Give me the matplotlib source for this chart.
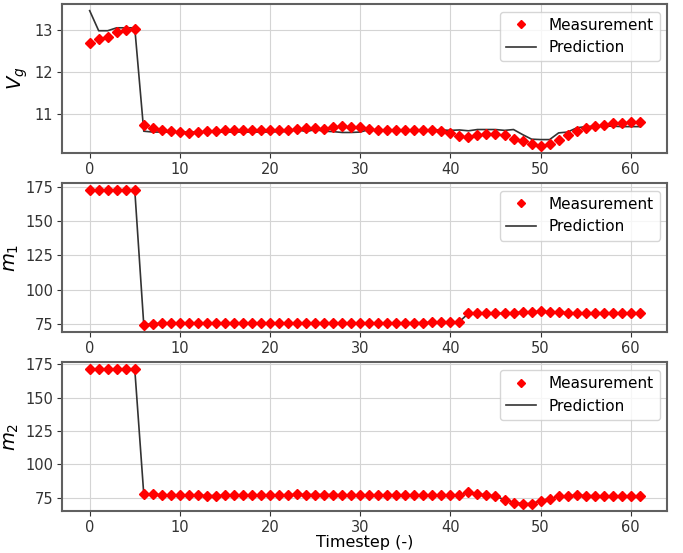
import numpy as np
import matplotlib
matplotlib.use('Agg')
import matplotlib.pyplot as plt

# 时间步
timestep = list(range(62))

# V_g 测量值 / 预测值
vg_meas = [12.69, 12.78, 12.84, 12.94, 12.99, 13.02, 10.74, 10.65, 10.60, 10.58,
           10.56, 10.53, 10.56, 10.58, 10.58, 10.60, 10.60, 10.60, 10.60, 10.60,
           10.60, 10.61, 10.62, 10.64, 10.65, 10.65, 10.64, 10.67, 10.70, 10.67,
           10.68, 10.64, 10.62, 10.60, 10.60, 10.60, 10.60, 10.60, 10.60, 10.58,
           10.53, 10.46, 10.44, 10.48, 10.51, 10.51, 10.48, 10.40, 10.34, 10.27,
           10.23, 10.28, 10.38, 10.48, 10.59, 10.65, 10.71, 10.74, 10.78, 10.78,
           10.80, 10.80]
vg_pred = [13.46, 12.98, 12.98, 13.05, 13.05, 13.05, 10.58, 10.56, 10.56, 10.56,
           10.56, 10.56, 10.56, 10.56, 10.56, 10.56, 10.56, 10.56, 10.56, 10.56,
           10.56, 10.57, 10.57, 10.62, 10.57, 10.62, 10.58, 10.57, 10.55, 10.55,
           10.56, 10.62, 10.61, 10.61, 10.61, 10.61, 10.61, 10.61, 10.61, 10.61,
           10.60, 10.61, 10.59, 10.62, 10.62, 10.62, 10.60, 10.62, 10.50, 10.39,
           10.38, 10.38, 10.54, 10.56, 10.66, 10.69, 10.70, 10.70, 10.70, 10.69,
           10.69, 10.69]

# m_1
m1_meas = [173.0, 173.0, 173.0, 173.0, 173.0, 173.0, 74.0, 74.7, 75.4, 75.6,
           75.6, 75.6, 75.6, 75.6, 75.6, 75.6, 75.6, 75.6, 75.6, 75.6,
           75.6, 75.6, 75.6, 75.6, 75.6, 75.6, 75.6, 75.6, 75.6, 75.6,
           75.6, 75.6, 75.6, 75.6, 75.6, 75.6, 75.7, 75.7, 75.9, 76.0,
           76.1, 76.5, 82.6, 82.6, 82.6, 82.6, 82.7, 83.0, 83.6, 83.9,
           84.0, 83.9, 83.5, 83.0, 82.7, 82.6, 82.5, 82.5, 82.5, 82.5,
           82.5, 82.5]
m1_pred = [173.0, 173.0, 173.0, 173.0, 173.0, 173.0, 74.2, 74.8, 75.4, 75.6,
           75.6, 75.6, 75.6, 75.6, 75.6, 75.6, 75.6, 75.6, 75.6, 75.6,
           75.6, 75.6, 75.6, 75.6, 75.6, 75.6, 75.6, 75.6, 75.6, 75.6,
           75.6, 75.6, 75.6, 75.6, 75.6, 75.6, 75.7, 75.7, 75.9, 76.0,
           76.1, 76.5, 82.5, 82.5, 82.5, 82.5, 82.6, 83.0, 83.5, 83.8,
           83.9, 83.8, 83.4, 83.0, 82.6, 82.5, 82.4, 82.4, 82.4, 82.4,
           82.4, 82.4]

# m_2
m2_meas = [171.5, 171.5, 171.5, 171.5, 171.5, 171.5, 77.5, 77.6, 77.1, 76.6,
           76.9, 76.6, 76.6, 76.5, 76.0, 76.6, 76.6, 77.0, 77.0, 77.0,
           77.0, 77.0, 77.0, 77.6, 77.2, 77.2, 77.2, 77.2, 77.2, 76.8,
           76.8, 76.8, 76.8, 76.8, 76.8, 76.8, 76.9, 76.9, 76.9, 76.9,
           76.8, 76.8, 79.0, 77.5, 77.0, 76.0, 73.2, 71.2, 70.0, 70.5,
           72.5, 74.2, 75.8, 76.3, 76.8, 76.5, 76.3, 76.0, 76.0, 76.3,
           76.3, 76.3]
m2_pred = [171.5, 171.5, 171.5, 171.5, 171.5, 171.5, 77.5, 77.4, 77.1, 76.8,
           76.8, 76.7, 76.6, 76.5, 76.4, 76.6, 76.7, 76.9, 77.0, 77.0,
           77.0, 77.0, 77.1, 77.3, 77.2, 77.2, 77.2, 77.2, 77.1, 76.9,
           76.8, 76.8, 76.8, 76.8, 76.8, 76.8, 76.9, 76.9, 76.9, 76.9,
           76.8, 76.8, 78.8, 77.5, 77.0, 76.0, 73.4, 71.4, 70.3, 70.6,
           72.5, 74.2, 75.7, 76.3, 76.7, 76.5, 76.3, 76.1, 76.1, 76.2,
           76.2, 76.2]

panels = [
    (vg_meas, vg_pred, '$V_g$', [11, 12, 13]),
    (m1_meas, m1_pred, '$m_1$', [75, 100, 125, 150, 175]),
    (m2_meas, m2_pred, '$m_2$', [75, 100, 125, 150, 175]),
]

fig = plt.figure(figsize=(6.83, 5.53), dpi=100)
bottoms = [0.724, 0.400, 0.076]

for (meas, pred, ylab, yt), b in zip(panels, bottoms):
    ax = fig.add_axes([0.091, b, 0.886, 0.269])
    ax.plot(timestep, meas, 'D', color='red', markersize=4.8, label='Measurement', zorder=3)
    ax.plot(timestep, pred, '-', color='#333333', linewidth=1.2, label='Prediction', zorder=2)
    ax.set_yticks(yt)
    ax.set_xticks([0, 10, 20, 30, 40, 50, 60])
    ax.set_ylabel(ylab, fontsize=14, labelpad=3)
    ax.tick_params(labelsize=10.5, colors='#333333', pad=3)
    ax.grid(True, color='#d4d4d4', linewidth=0.8)
    ax.set_axisbelow(True)
    for s in ax.spines.values():
        s.set_color('#606060')
        s.set_linewidth(1.5)
    ax.legend(loc='upper right', fontsize=11, markerscale=0.8)

ax.set_xlabel('Timestep (-)', fontsize=11.5, labelpad=0)

fig.savefig('out.png', dpi=100)
